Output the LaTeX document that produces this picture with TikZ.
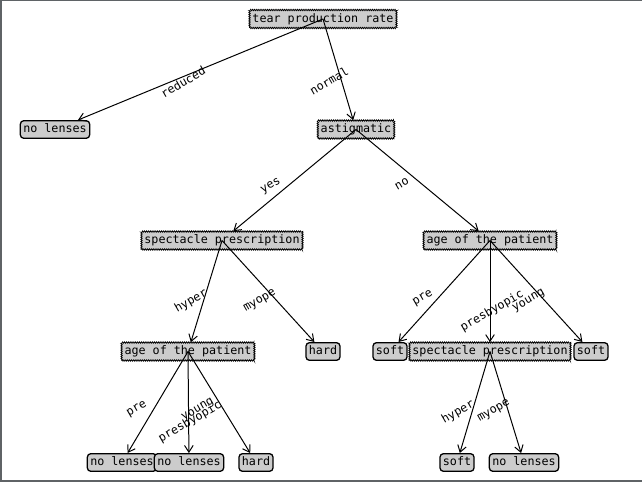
\documentclass[tikz,border=0pt]{standalone}
\usepackage{fontspec}
\setmonofont{DejaVu Sans Mono}
\usetikzlibrary{arrows.meta,decorations.pathmorphing}
\definecolor{boxgrey}{HTML}{CCCCCC}
\definecolor{framegrey}{HTML}{5F6366}
\tikzset{
  treefont/.style={font=\ttfamily\fontsize{10}{12}\selectfont},
  decnode/.style={treefont,draw,fill=boxgrey,line width=0.6pt,decorate,decoration={zigzag,segment length=1.6pt,amplitude=0.6pt},inner xsep=2.5pt,inner ysep=0pt,minimum height=0.54cm,text height=7.5pt,text depth=2pt},
  leafnode/.style={treefont,draw,fill=boxgrey,line width=1.1pt,rounded corners=3pt,inner xsep=2.5pt,inner ysep=0pt,minimum height=0.53cm,text height=7.5pt,text depth=2pt},
  edgetxt/.style={treefont,rotate=30,inner sep=0pt},
  flow/.style={-{Straight Barb[length=2mm,width=2.6mm]},line width=0.85pt},
}
\begin{document}
\begin{tikzpicture}[x=0.03cm,y=-0.03cm]
  \useasboundingbox (0,0) rectangle (642,482);
  % frame
  \draw[framegrey,line width=0.07cm] (1.2,0) -- (1.2,482);
  \draw[framegrey,line width=0.04cm] (0,0.7) -- (642,0.7);
  \draw[framegrey,line width=0.07cm] (0,480.8) -- (642,480.8);
  % decision and leaf nodes
  \node[decnode] (tear) at (323,19) {tear production rate};
  \node[leafnode] (nlA) at (55,129.5) {no lenses};
  \node[decnode] (astig) at (356,129.5) {astigmatic};
  \node[decnode] (specA) at (222,240.5) {spectacle prescription};
  \node[decnode] (ageA) at (490,240.5) {age of the patient};
  \node[decnode] (ageB) at (188,351.5) {age of the patient};
  \node[leafnode] (hardA) at (323,351.5) {hard};
  \node[leafnode] (softA) at (390,351.5) {soft};
  \node[decnode] (specB) at (490,351.5) {spectacle prescription};
  \node[leafnode] (softB) at (591,351.5) {soft};
  \node[leafnode] (nlB) at (122,462.5) {no lenses};
  \node[leafnode] (nlC) at (189,462.5) {no lenses};
  \node[leafnode] (hardB) at (256,462.5) {hard};
  \node[leafnode] (softC) at (457,462.5) {soft};
  \node[leafnode] (nlD) at (524,462.5) {no lenses};
  % branches
  \draw[flow] (tear.center) -- (nlA);
  \draw[flow] (tear.center) -- (astig);
  \draw[flow] (astig.center) -- (specA);
  \draw[flow] (astig.center) -- (ageA);
  \draw[flow] (specA.center) -- (ageB);
  \draw[flow] (specA.center) -- (hardA);
  \draw[flow] (ageA.center) -- (softA);
  \draw[flow] (ageA.center) -- (specB);
  \draw[flow] (ageA.center) -- (softB);
  \draw[flow] (ageB.center) -- (nlB);
  \draw[flow] (ageB.center) -- (nlC);
  \draw[flow] (ageB.center) -- (hardB);
  \draw[flow] (specB.center) -- (softC);
  \draw[flow] (specB.center) -- (nlD);
  % branch values
  \node[edgetxt] (tReduced) at (183,82) {reduced};
  \node[edgetxt] (tNormal) at (329,81) {normal};
  \node[edgetxt] (tYes) at (271,186) {yes};
  \node[edgetxt] (tNo) at (402,184) {no};
  \node[edgetxt] (tHyperA) at (191,301) {hyper};
  \node[edgetxt] (tMyopeA) at (260,301) {myope};
  \node[edgetxt] (tPreA) at (423,298) {pre};
  \node[edgetxt] (tPresbyA) at (492,311) {presbyopic};
  \node[edgetxt] (tYoungA) at (529,301) {young};
  \node[edgetxt] (tPreB) at (137,409) {pre};
  \node[edgetxt] (tPresbyB) at (190,422) {presbyopic};
  \node[edgetxt] (tYoungB) at (198,410) {young};
  \node[edgetxt] (tHyperB) at (458,412) {hyper};
  \node[edgetxt] (tMyopeB) at (494,411) {myope};
\end{tikzpicture}
\end{document}
